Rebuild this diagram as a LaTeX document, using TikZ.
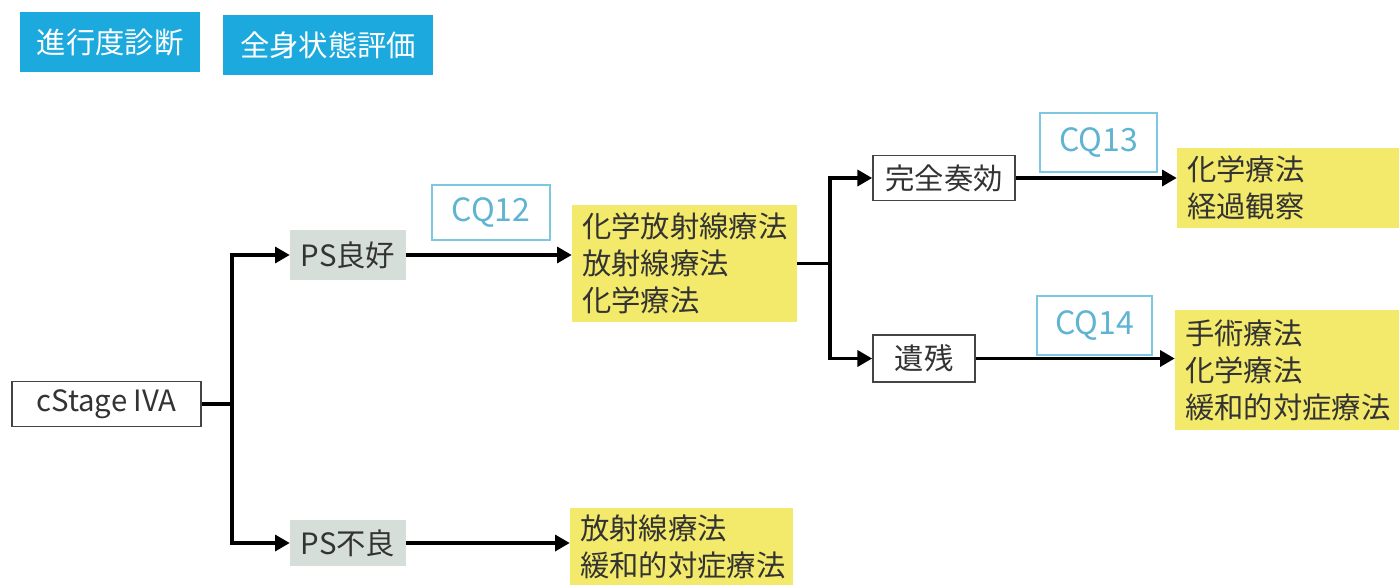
\documentclass[tikz,border=0pt]{standalone}
\usepackage{fontspec}
\setmainfont{Noto Sans CJK JP}
\usetikzlibrary{arrows.meta}
\definecolor{hdrblue}{HTML}{1CA9DE}
\definecolor{cqblue}{HTML}{7CC8E0}
\definecolor{cqtext}{HTML}{5FB4D2}
\definecolor{ylw}{HTML}{F3EA6B}
\definecolor{psfill}{HTML}{D6DED9}
\definecolor{txt}{HTML}{333333}
\definecolor{bord}{HTML}{444444}
\tikzset{
  hdr/.style={fill=hdrblue, text=white, inner sep=0pt, font=\fontsize{22}{26}\selectfont},
  plain/.style={draw=bord, line width=1.3pt, fill=white, text=txt, inner sep=0pt, font=\fontsize{22}{26}\selectfont},
  psbox/.style={fill=psfill, text=txt, inner sep=0pt, font=\fontsize{22}{26}\selectfont},
  treat/.style={fill=ylw, text=txt, inner xsep=7.5pt, inner ysep=0pt, align=left, text width=#1, font=\fontsize{22}{27.75}\selectfont},
  cqbox/.style={draw=cqblue, line width=1.5pt, fill=white, text=cqtext, inner sep=0pt, font=\fontsize{24}{28}\selectfont},
  conn/.style={line width=2.5pt, draw=black},
  arr/.style={conn, -{Triangle[length=11pt,width=12pt]}},
}
\begin{document}
\begin{tikzpicture}[x=0.75pt, y=-0.75pt]
\useasboundingbox (0,0) rectangle (1399,585);
% headers
\node[hdr, minimum width=135pt, minimum height=45pt] (h1) at (110,42) {進行度診断};
\node[hdr, minimum width=157.5pt, minimum height=45pt] (h2) at (328,45) {全身状態評価};
% main nodes
\node[plain, minimum width=141.75pt, minimum height=33.75pt] (cs) at (106.5,404) {cStage IVA};
\node[psbox, minimum width=87pt, minimum height=37.5pt] (psg) at (348,255) {PS良好};
\node[psbox, minimum width=87pt, minimum height=34.5pt] (psb) at (348,543) {PS不良};
\node[treat=153.75pt, minimum height=87.75pt] (y1) at (684.5,263.5) {化学放射線療法\\放射線療法\\化学療法};
\node[cqbox, minimum width=88.5pt, minimum height=41.25pt] (cq12) at (491,212.5) {CQ12};
\node[plain, minimum width=106.5pt, minimum height=33.75pt] (cr) at (944,178) {完全奏効};
\node[plain, minimum width=76.5pt, minimum height=35.25pt] (rs) at (924,358.5) {遺残};
\node[treat=151.5pt, minimum height=60pt] (y2) at (1288,188) {化学療法\\経過観察};
\node[cqbox, minimum width=87.75pt, minimum height=44.25pt] (cq13) at (1098.5,142.5) {CQ13};
\node[treat=153pt, minimum height=90pt] (y3) at (1287,370) {手術療法\\化学療法\\緩和的対症療法};
\node[cqbox, minimum width=86.25pt, minimum height=44.25pt] (cq14) at (1094.5,325.5) {CQ14};
\node[treat=152.25pt, minimum height=57.75pt] (y4) at (681.5,546.5) {放射線療法\\緩和的対症療法};
% junctions
\coordinate (j1) at (232,404);
\coordinate (j2) at (830,263.5);
% connectors
\draw[conn] (cs.east) -- (j1);
\draw[arr] (j1) |- (psg.west);
\draw[arr] (j1) |- (psb.west);
\draw[arr] (psg.east) -- (psg.east -| y1.west);
\draw[arr] (psb.east) -- (psb.east -| y4.west);
\draw[conn] (y1.east) -- (j2);
\draw[arr] (j2) |- (cr.west);
\draw[arr] (j2) |- (rs.west);
\draw[arr] (cr.east) -- (cr.east -| y2.west);
\draw[arr] (rs.east) -- (rs.east -| y3.west);
\end{tikzpicture}
\end{document}
